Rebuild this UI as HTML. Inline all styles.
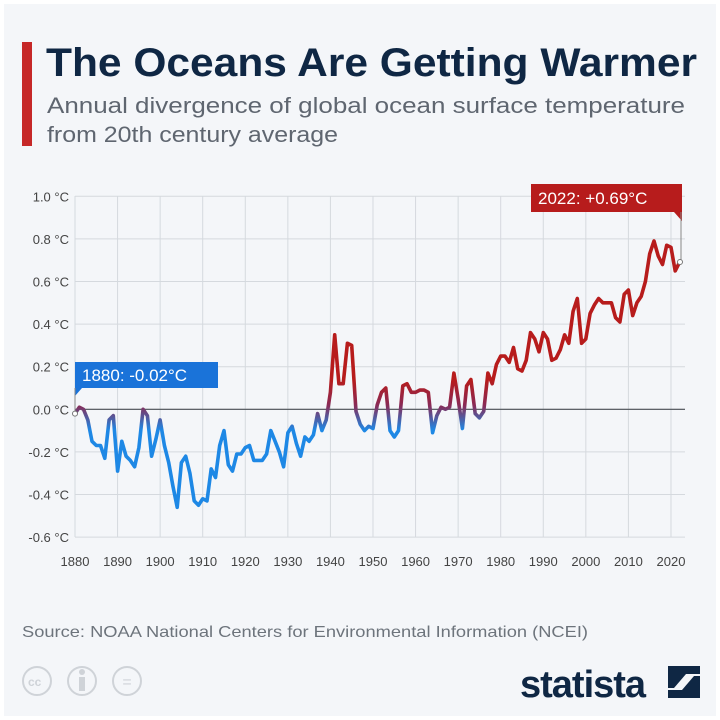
<!DOCTYPE html>
<html><head><meta charset="utf-8"><style>
body{margin:0;width:720px;height:720px;background:#fff;font-family:"Liberation Sans",sans-serif;overflow:hidden}
#c{position:absolute;left:4px;top:4px;width:712px;height:712px;background:#f4f6f9}
</style></head><body><div id="c"></div>
<svg id="s" width="720" height="720" style="position:absolute;left:0;top:0" font-family="Liberation Sans, sans-serif">
<defs><linearGradient id="g" gradientUnits="userSpaceOnUse" x1="0" y1="380" x2="0" y2="430">
<stop offset="0" stop-color="#b71c1c"/><stop offset="0.5" stop-color="#8a2a55"/><stop offset="1" stop-color="#1e88e5"/></linearGradient></defs>
<rect x="22" y="42" width="10" height="104" fill="#c62828"/>
<text x="46" y="76" font-size="40" font-weight="bold" fill="#0f2744" textLength="651" lengthAdjust="spacingAndGlyphs">The Oceans Are Getting Warmer</text>
<text x="47" y="113" font-size="22" fill="#5f6670" textLength="638" lengthAdjust="spacingAndGlyphs">Annual divergence of global ocean surface temperature</text>
<text x="47" y="142" font-size="22" fill="#5f6670" textLength="291" lengthAdjust="spacingAndGlyphs">from 20th century average</text>
<g id="grid" stroke="#d5d9de" stroke-width="1"></g>
<line x1="75" y1="409.3" x2="685" y2="409.3" stroke="#4a4f55" stroke-width="1.2"/>
<g id="lab" font-size="13" fill="#444"></g>
<path id="p" fill="none" stroke="url(#g)" stroke-width="3.6" stroke-linejoin="round"/>
<rect x="75" y="362" width="143" height="26" fill="#1a73d9"/>
<path d="M75 388 L82 388 L75 396Z" fill="#1a73d9"/>
<line x1="75" y1="388" x2="75" y2="413" stroke="#888"/>
<text x="82" y="381" font-size="17" fill="#fff">1880: -0.02°C</text>
<circle cx="75" cy="413.6" r="2.5" fill="#fff" stroke="#777"/>
<rect x="531" y="184" width="151" height="28" fill="#b71c1c"/>
<path d="M682 212 L682 221 L674 212Z" fill="#b71c1c"/>
<line x1="681" y1="212" x2="681" y2="262" stroke="#888"/>
<text x="538" y="204" font-size="17" fill="#fff">2022: +0.69°C</text>
<circle cx="680" cy="262" r="2.5" fill="#fff" stroke="#777"/>
<text x="22" y="637" font-size="16" fill="#6d747c" textLength="566" lengthAdjust="spacingAndGlyphs">Source: NOAA National Centers for Environmental Information (NCEI)</text>
<g fill="none" stroke="#cfd3d8" stroke-width="2"><circle cx="37" cy="681" r="14"/><circle cx="82" cy="681" r="14"/><circle cx="127" cy="681" r="14"/></g>
<text x="28" y="686" font-size="12" fill="#cfd3d8" font-weight="bold">cc</text>
<text x="127" y="687" font-size="16" fill="#cfd3d8" text-anchor="middle">=</text>
<rect x="79" y="677" width="6" height="14" fill="#cfd3d8"/><circle cx="82" cy="672" r="3" fill="#cfd3d8"/>
<text x="520" y="697" font-size="38" font-weight="bold" fill="#0f2744" letter-spacing="-1">statista</text>
<path d="M668 666 h32 v8 h-14 l-12 14 h-6z M700 698 h-32 v-8 h14 l12 -14 h6z" fill="#0f2744"/>
</svg>
<script>
var d=[-0.02,0.01,0.0,-0.05,-0.15,-0.17,-0.17,-0.23,-0.05,-0.03,-0.29,-0.15,-0.22,-0.24,-0.27,-0.18,0.0,-0.03,-0.22,-0.14,-0.05,-0.17,-0.25,-0.36,-0.46,-0.25,-0.22,-0.3,-0.43,-0.45,-0.42,-0.43,-0.28,-0.32,-0.17,-0.1,-0.26,-0.29,-0.21,-0.21,-0.18,-0.17,-0.24,-0.24,-0.24,-0.21,-0.1,-0.15,-0.2,-0.27,-0.11,-0.08,-0.16,-0.22,-0.13,-0.15,-0.12,-0.02,-0.1,-0.05,0.08,0.35,0.12,0.12,0.31,0.3,-0.01,-0.07,-0.1,-0.08,-0.09,0.02,0.08,0.1,-0.1,-0.13,-0.1,0.11,0.12,0.08,0.08,0.09,0.09,0.08,-0.11,-0.03,0.01,0.0,0.01,0.17,0.05,-0.09,0.11,0.14,-0.02,-0.04,-0.01,0.17,0.12,0.21,0.25,0.25,0.22,0.29,0.19,0.18,0.23,0.36,0.33,0.27,0.36,0.33,0.23,0.24,0.28,0.35,0.31,0.46,0.52,0.31,0.33,0.45,0.49,0.52,0.5,0.5,0.5,0.43,0.41,0.54,0.56,0.44,0.5,0.53,0.6,0.73,0.79,0.72,0.68,0.77,0.76,0.65,0.69];
function X(y){return 75+(y-1880)*4.257}function Y(v){return 409.3-v*213}
var s="";d.forEach(function(v,i){s+=(i?"L":"M")+X(1880+i).toFixed(1)+" "+Y(v).toFixed(1)});
document.getElementById("p").setAttribute("d",s);
var ns="http://www.w3.org/2000/svg",g=document.getElementById("grid"),l=document.getElementById("lab");
function el(p,t,a,tx){var e=document.createElementNS(ns,t);for(var k in a)e.setAttribute(k,a[k]);if(tx)e.textContent=tx;p.appendChild(e)}
for(var v=-6;v<=10;v+=2){var y=Y(v/10);el(g,"line",{x1:75,x2:685,y1:y,y2:y});el(l,"text",{x:69,y:y+5,"text-anchor":"end"},(v/10).toFixed(1)+" °C")}
for(var yr=1880;yr<=2020;yr+=10){var x=X(yr);el(g,"line",{x1:x,x2:x,y1:196,y2:537});el(l,"text",{x:x,y:566,"text-anchor":"middle"},yr)}
</script>
</body></html>
